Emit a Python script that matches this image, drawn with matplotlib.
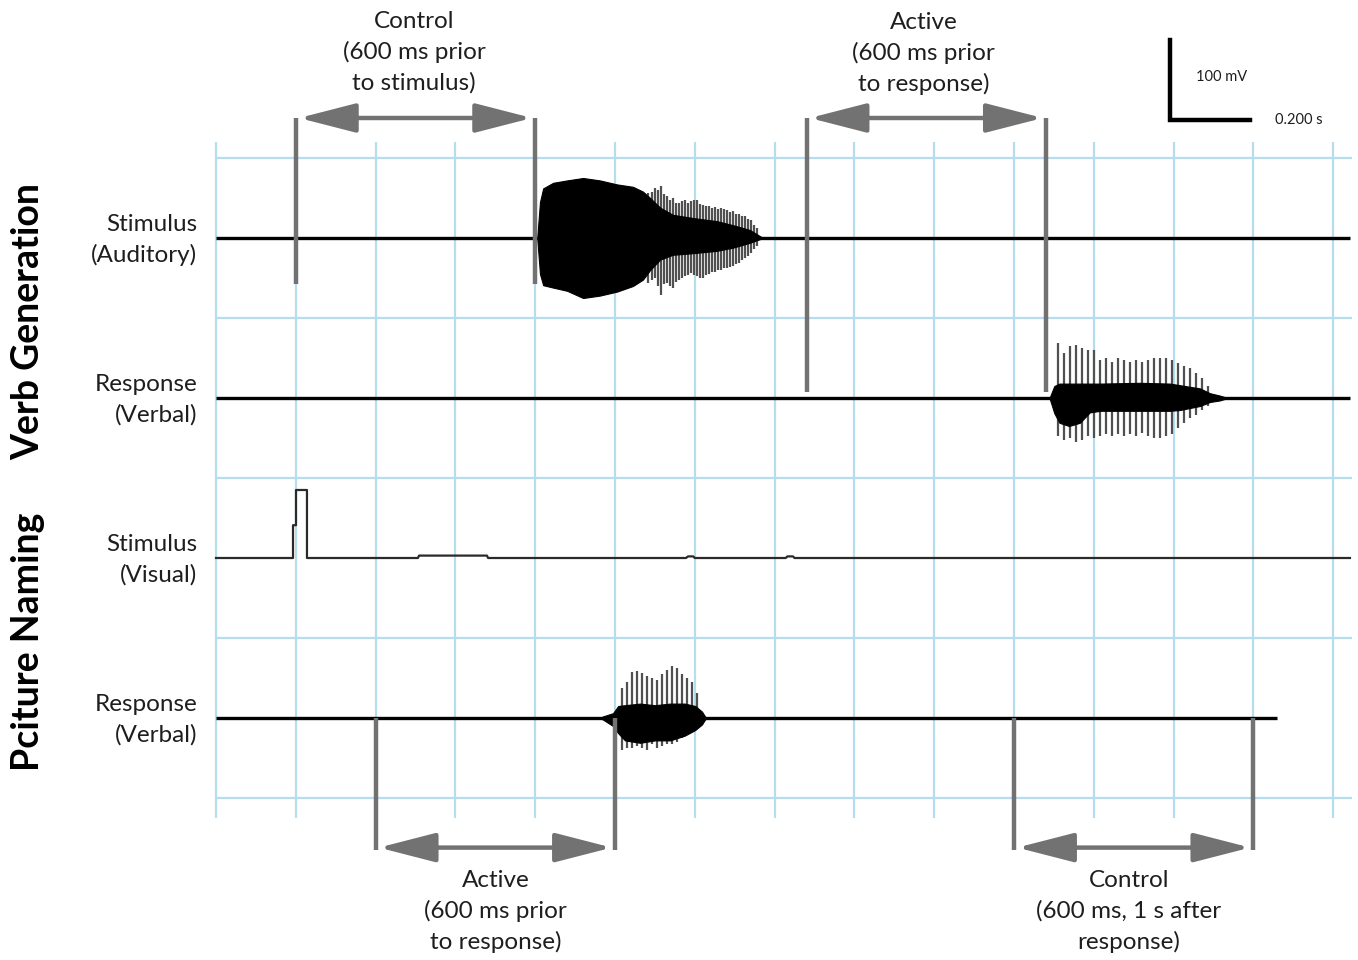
import matplotlib
matplotlib.use("Agg")
import matplotlib.pyplot as plt
from matplotlib.patches import FancyArrowPatch, ArrowStyle

plt.rcParams['font.family'] = ['Lato', 'DejaVu Sans']

# ---------------- data (time in s, amplitude in mV) ----------------
trace_labels = ["Stimulus\n(Auditory)", "Response\n(Verbal)", "Stimulus\n(Visual)", "Response\n(Verbal)"]
trace_baselines = [700, 500, 300, 100]
trace_ends = [2.842, 2.842, 2.842, 2.66]
group_labels = ["Verb Generation", "Pciture Naming"]
group_centers = [596, 195]

# Auditory stimulus (verb generation) dense envelope
aud_t = [0.805, 0.812, 0.820, 0.845, 0.880, 0.920, 0.962, 1.005, 1.045, 1.070, 1.088, 1.113, 1.145, 1.195, 1.256, 1.296, 1.338, 1.371]
aud_top = [0, 45, 62, 69, 72, 75, 72, 67, 64, 58, 50, 38, 29, 25, 21, 16, 10, 0]
aud_bot = [0, 45, 59, 62, 66, 75, 72, 67, 60, 52, 40, 27, 21, 19, 16, 12, 6, 0]
aud_spk_t = [1.083, 1.092, 1.100, 1.108, 1.115, 1.123, 1.130, 1.138, 1.145, 1.153, 1.160, 1.168, 1.175, 1.183,
             1.190, 1.198, 1.206, 1.213, 1.221, 1.228, 1.236, 1.243, 1.251, 1.258, 1.266, 1.273, 1.281,
             1.288, 1.296, 1.303, 1.311, 1.318, 1.326, 1.333, 1.341, 1.348, 1.356]
aud_spk_up = [56, 58, 62, 60, 65, 55, 52, 48, 50, 44, 44, 46, 48, 44, 46, 47, 48, 42, 41, 40, 40, 38,
              39, 36, 38, 36, 35, 33, 34, 30, 30, 28, 28, 24, 22, 16, 12]
aud_spk_dn = [56, 52, 50, 60, 71, 58, 56, 60, 62, 55, 52, 50, 48, 46, 44, 46, 48, 50, 50, 46, 45, 43,
              42, 40, 40, 38, 38, 36, 35, 32, 31, 28, 25, 22, 19, 14, 10]

# Verbal response (verb generation)
vg_t = [2.089, 2.101, 2.114, 2.138, 2.165, 2.190, 2.216, 2.316, 2.391, 2.416, 2.466, 2.491, 2.516, 2.536]
vg_top = [0, 15, 18, 18, 18, 18, 18, 19, 18, 16, 12, 6, 3, 0]
vg_bot = [0, 19, 31, 35, 31, 18, 16, 16, 16, 15, 10, 5, 3, 0]
vg_spk_t = [2.110, 2.125, 2.140, 2.155, 2.170, 2.185, 2.201, 2.216, 2.231, 2.246, 2.261, 2.276, 2.291,
            2.306, 2.321, 2.336, 2.351, 2.366, 2.381, 2.396, 2.411, 2.426, 2.441, 2.456, 2.471, 2.486]
vg_spk_up = [69, 56, 65, 66, 62, 60, 60, 48, 50, 45, 50, 48, 45, 48, 45, 48, 50, 50, 50, 48, 44, 40, 38, 31, 25, 15]
vg_spk_dn = [48, 52, 50, 55, 52, 48, 50, 48, 45, 48, 45, 48, 45, 48, 44, 48, 50, 50, 48, 45, 38, 31, 25, 21, 15, 10]

# Visual stimulus (picture naming)
vis_t = [0.0, 0.193, 0.193, 0.2005, 0.2005, 0.228, 0.228, 0.506, 0.509, 0.679, 0.682,
         1.178, 1.183, 1.196, 1.200, 1.428, 1.432, 1.446, 1.450, 2.842]
vis_v = [0, 0, 41, 41, 85, 85, 0, 0, 3, 3, 0, 0, 2, 2, 0, 0, 2, 2, 0, 0]

# Verbal response (picture naming)
pn_t = [0.962, 0.970, 0.995, 1.008, 1.025, 1.063, 1.100, 1.138, 1.175, 1.201, 1.218, 1.228]
pn_top = [0, 2, 6, 15, 16, 18, 16, 18, 18, 15, 8, 0]
pn_bot = [0, 2, 10, 19, 28, 31, 28, 28, 22, 15, 8, 0]
pn_spk_t = [1.018, 1.030, 1.043, 1.055, 1.068, 1.080, 1.093, 1.105, 1.118, 1.130, 1.143, 1.155, 1.168, 1.180, 1.193, 1.206]
pn_spk_up = [38, 45, 58, 59, 56, 52, 50, 48, 55, 60, 65, 62, 55, 50, 45, 31]
pn_spk_dn = [40, 38, 38, 35, 38, 40, 32, 38, 35, 32, 32, 30, 25, 19, 15, 10]

# Window markers and labels
top_marker_t = [0.2, 0.8, 1.48, 2.08]
top_marker_low = [642, 642, 507, 507]
bottom_marker_t = [0.4, 1.0, 2.0, 2.6]
window_labels_top = ["Control\n(600 ms prior\nto stimulus)", "Active\n(600 ms prior\nto response)"]
window_labels_bottom = ["Active\n(600 ms prior\nto response)", "Control\n(600 ms, 1 s after\nresponse)"]

# Grid
grid_t = [i * 0.2 for i in range(15)]
grid_mv = [0, 200, 400, 600, 800]

# ---------------- figure ----------------
PX_PER_S = 399.0
PX_PER_MV = 0.8
W, H = 1358, 960
fig = plt.figure(figsize=(W / 100, H / 100), dpi=100)
ax = fig.add_axes([0, 0, 1, 1])
ax.set_xlim(-216 / PX_PER_S, (W - 216) / PX_PER_S)
ax.set_ylim((798 - H) / PX_PER_MV, 798 / PX_PER_MV)
ax.axis('off')

grid_color = '#b6dded'
ax.vlines(grid_t, -25, 820, color=grid_color, lw=1.6, zorder=0)
ax.hlines(grid_mv, 0, 2.847, color=grid_color, lw=1.6, zorder=0)

# baselines
for i, (b, te) in enumerate(zip(trace_baselines, trace_ends)):
    if i == 2:
        continue
    ax.hlines(b, 0, te, color='black', lw=2.4, zorder=3)

def burst(t, top, bot, st, su, sd, base):
    ax.vlines(st, [base - d for d in sd], [base + u for u in su], color='#505050', lw=1.6, zorder=3)
    ax.fill_between(t, [base + v for v in top], [base - v for v in bot], color='black', lw=0.8,
                    edgecolor='black', zorder=4)

burst(aud_t, aud_top, aud_bot, aud_spk_t, aud_spk_up, aud_spk_dn, trace_baselines[0])
burst(vg_t, vg_top, vg_bot, vg_spk_t, vg_spk_up, vg_spk_dn, trace_baselines[1])
burst(pn_t, pn_top, pn_bot, pn_spk_t, pn_spk_up, pn_spk_dn, trace_baselines[3])

ax.plot(vis_t, [trace_baselines[2] + v for v in vis_v], color='#2a2a2a', lw=1.6, zorder=3)

# markers
mk_color = '#727272'
ax.vlines(top_marker_t, top_marker_low, 850, color=mk_color, lw=3.2, zorder=5)
ax.vlines(bottom_marker_t, -65, trace_baselines[3], color=mk_color, lw=3.2, zorder=5)

def darrow(t0, t1, y):
    inset = 0.008
    a = FancyArrowPatch((t0 + inset, y), (t1 - inset, y),
                        arrowstyle=ArrowStyle('<|-|>', head_length=35, head_width=9),
                        mutation_scale=1, lw=3.2, color=mk_color, shrinkA=0, shrinkB=0, zorder=5)
    ax.add_patch(a)

darrow(top_marker_t[0], top_marker_t[1], 850)
darrow(top_marker_t[2], top_marker_t[3], 850)
darrow(bottom_marker_t[0], bottom_marker_t[1], -62)
darrow(bottom_marker_t[2], bottom_marker_t[3], -62)

txt_color = '#1e1e1e'
fs = 17.5
ls = 1.5
ax.text((top_marker_t[0] + top_marker_t[1]) / 2 - 0.004, 932, window_labels_top[0], ha='center', va='center',
        fontsize=fs, color=txt_color, linespacing=ls)
ax.text((top_marker_t[2] + top_marker_t[3]) / 2 - 0.006, 931, window_labels_top[1], ha='center', va='center',
        fontsize=fs, color=txt_color, linespacing=ls)
ax.text((bottom_marker_t[0] + bottom_marker_t[1]) / 2, -142, window_labels_bottom[0], ha='center', va='center',
        fontsize=fs, color=txt_color, linespacing=ls)
ax.text((bottom_marker_t[2] + bottom_marker_t[3]) / 2 - 0.012, -142, window_labels_bottom[1], ha='center',
        va='center', fontsize=fs, color=txt_color, linespacing=ls)

for lab, b in zip(trace_labels, trace_baselines):
    ax.text(-0.047, b - 2, lab, ha='right', va='center', fontsize=17.5, color=txt_color, linespacing=1.5)

for lab, c in zip(group_labels, group_centers):
    ax.text(-0.470, c, lab, ha='center', va='center', rotation=90, fontsize=27, fontweight='bold',
            color='black')

# scale bar
sb_t, sb_y = 2.391, 848
ax.plot([sb_t, sb_t, sb_t + 0.2], [sb_y + 100, sb_y, sb_y], color='black', lw=3.2,
        solid_joinstyle='miter', zorder=5)
ax.text(2.519, 901, "100 mV", ha='center', va='center', fontsize=10.5, color=txt_color)
ax.text(2.714, 848, "0.200 s", ha='center', va='center', fontsize=10.5, color=txt_color)

fig.savefig("out.png", dpi=100)
